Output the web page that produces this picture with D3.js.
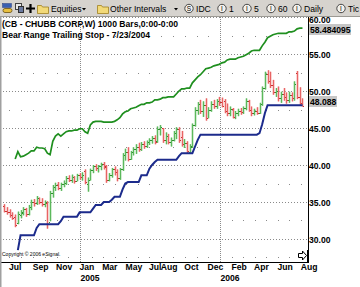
<!DOCTYPE html>
<html>
<head>
<meta charset="utf-8">
<script src="https://cdn.jsdelivr.net/npm/d3@7/dist/d3.min.js"></script>
<style>
  html, body { margin: 0; padding: 0; background: #fff; overflow: hidden; }
  svg { display: block; font-family: 'Liberation Sans', Arial, sans-serif; }
</style>
</head>
<body>
<svg id="chart" width="360" height="287"></svg>
<script>
// weekly bars, CB (Chubb) Jun 2004 - Aug 2006
const firstWeek = '2004-06-18';
const lastWeek = '2006-08-04';

const opens = [
  34.5, 33.8, 33.6, 33.2, 33.0, 32.1, 33.3, 33.5, 34.0, 33.4,
  34.3, 35.0, 34.8, 35.5, 35.0, 34.7, 34.9, 32.3, 36.2, 37.0,
  37.3, 36.9, 37.4, 37.6, 38.3, 38.0, 38.4, 37.9, 38.6, 38.4,
  39.2, 37.5, 38.0, 39.3, 39.8, 39.6, 39.8, 40.1, 39.8, 38.0,
  38.6, 39.4, 39.0, 38.2, 39.4, 41.3, 41.8, 40.8, 41.7, 42.1,
  42.5, 42.2, 42.9, 42.6, 43.1, 43.4, 43.6, 43.2, 44.8, 45.0,
  43.4, 43.9, 43.1, 43.4, 44.3, 44.9, 43.8, 42.8, 43.0, 41.8,
  42.5, 45.4, 47.5, 48.2, 47.3, 48.1, 46.4, 47.5, 48.3, 48.0,
  48.7, 48.5, 48.6, 47.3, 47.0, 47.6, 46.5, 47.0, 47.3, 47.1,
  47.7, 48.6, 47.5, 47.0, 47.3, 47.0, 48.2, 50.4, 52.3, 51.4,
  50.8, 49.8, 50.0, 49.0, 49.6, 49.2, 48.8, 49.5, 49.0, 52.4,
  49.2, 48.4
];
const highs = [
  34.7, 34.3, 34.0, 33.6, 33.3, 33.7, 33.9, 34.3, 34.2, 34.6,
  35.3, 35.4, 35.8, 35.6, 35.5, 35.2, 35.1, 36.5, 37.3, 37.6,
  37.7, 37.6, 37.9, 38.5, 38.6, 38.7, 38.5, 38.8, 38.9, 39.0,
  39.4, 38.3, 39.5, 40.0, 40.1, 40.0, 40.3, 40.4, 40.0, 38.9,
  39.6, 39.8, 39.4, 39.6, 41.6, 42.2, 42.4, 41.9, 42.4, 42.8,
  43.0, 43.1, 43.2, 43.3, 43.6, 43.9, 44.0, 45.2, 45.4, 45.0,
  44.4, 44.2, 43.7, 44.6, 45.1, 45.1, 44.6, 43.5, 43.2, 42.8,
  45.6, 47.8, 48.5, 48.8, 48.6, 49.0, 47.8, 48.6, 48.8, 48.9,
  49.2, 49.1, 48.9, 48.3, 47.9, 47.7, 47.3, 47.6, 47.7, 47.9,
  49.0, 48.8, 47.9, 47.6, 47.8, 48.4, 50.6, 52.6, 52.8, 52.6,
  51.5, 50.4, 50.6, 49.9, 50.4, 49.8, 49.9, 49.8, 51.3, 52.7,
  50.5, 49.0
];
const lows = [
  33.6, 33.3, 32.9, 32.6, 31.6, 32.0, 32.8, 33.2, 33.0, 33.2,
  33.9, 34.4, 34.6, 34.7, 34.4, 34.3, 31.4, 32.4, 35.6, 36.5,
  36.6, 36.5, 37.0, 37.3, 37.7, 37.6, 37.5, 37.8, 38.0, 37.9,
  37.4, 36.4, 37.9, 38.9, 39.2, 39.0, 39.3, 39.4, 37.6, 37.8,
  38.3, 38.6, 37.8, 38.0, 39.2, 40.6, 40.5, 40.7, 41.3, 41.5,
  41.8, 41.9, 42.2, 42.3, 42.7, 42.9, 42.8, 43.0, 44.0, 43.0,
  42.8, 42.8, 42.5, 43.2, 43.5, 43.0, 42.5, 42.3, 41.6, 41.5,
  42.3, 45.2, 46.8, 46.9, 46.5, 46.0, 46.3, 47.2, 47.6, 47.6,
  48.0, 47.8, 47.0, 46.6, 46.6, 46.3, 46.2, 46.6, 46.8, 46.9,
  47.4, 47.2, 46.6, 46.7, 46.8, 46.9, 48.0, 50.2, 51.0, 50.4,
  49.5, 49.2, 48.6, 48.4, 48.7, 48.3, 48.4, 48.6, 48.7, 48.9,
  48.0, 47.9
];
const closes = [
  33.8, 33.6, 33.2, 32.8, 31.9, 33.4, 33.6, 34.0, 33.4, 34.3,
  35.0, 34.8, 35.5, 35.0, 34.7, 35.0, 32.0, 36.2, 37.0, 37.3,
  36.9, 37.4, 37.6, 38.3, 38.0, 38.4, 37.9, 38.6, 38.4, 38.7,
  37.7, 38.0, 39.3, 39.8, 39.6, 39.8, 40.1, 39.7, 38.0, 38.6,
  39.4, 39.0, 38.2, 39.4, 41.3, 41.8, 40.8, 41.7, 42.1, 42.5,
  42.2, 42.9, 42.6, 43.1, 43.4, 43.6, 43.1, 44.8, 45.1, 43.4,
  43.9, 43.1, 43.4, 44.3, 44.9, 43.4, 42.8, 43.0, 41.9, 42.6,
  45.4, 47.5, 48.2, 47.3, 48.1, 46.4, 47.5, 48.3, 48.0, 48.7,
  48.5, 48.0, 47.3, 47.0, 47.6, 46.5, 47.0, 47.3, 47.1, 47.7,
  48.6, 47.5, 47.0, 47.3, 47.0, 48.2, 50.4, 52.3, 51.4, 50.8,
  49.8, 50.0, 49.0, 49.6, 49.2, 48.8, 49.5, 49.0, 51.0, 49.2,
  48.4, 48.0
];

// upper range line starts on week 4 (7/16/2004)
const upperStart = 4;
const upperLine = [
  40.8, 41.8, 41.1, 41.2, 41.4, 41.6, 41.9, 41.9, 42.4, 42.3,
  42.3, 42.2, 41.6, 41.4, 43.2, 43.9, 44.2, 43.9, 44.2, 44.5,
  44.6, 44.6, 44.7, 44.7, 44.9, 44.9, 44.5, 44.3, 45.4, 45.8,
  45.9, 45.9, 45.9, 45.8, 45.8, 45.8, 45.8, 45.9, 46.1, 46.4,
  46.9, 47.2, 47.3, 47.6, 47.7, 47.8, 48.0, 48.2, 48.2, 48.4,
  48.4, 48.5, 48.8, 48.8, 48.9, 49.1, 49.1, 49.2, 49.2, 49.2,
  49.6, 50.0, 50.3, 50.3, 50.4, 50.4, 51.1, 51.5, 51.9, 52.2,
  52.6, 53.0, 53.1, 53.2, 53.4, 53.5, 53.6, 53.8, 53.9, 54.2,
  54.3, 54.3, 54.3, 54.5, 54.6, 54.7, 54.9, 55.1, 55.4, 55.5,
  55.5, 55.5, 56.1, 56.6, 57.2, 57.4, 57.6, 57.7, 57.8, 57.8,
  57.8, 57.8, 58.0, 58.0, 58.1, 58.4, 58.484095, 58.484095
];

// bear range trailing stop starts on week 5 (7/23/2004)
const stopStart = 5;
const stopLine = [
  28.5, 30.5, 30.5, 30.5, 30.5, 30.5, 30.5, 31.5, 32.0, 32.0,
  32.0, 32.0, 32.0, 32.0, 32.0, 32.0, 32.4, 33.0, 33.0, 33.0,
  33.0, 33.0, 33.0, 33.6, 33.6, 33.6, 33.6, 33.6, 34.1, 34.6,
  34.6, 34.6, 35.0, 35.0, 35.0, 35.3, 35.7, 35.7, 35.7, 36.7,
  37.5, 37.7, 37.7, 37.7, 37.7, 37.7, 38.6, 38.6, 38.6, 39.5,
  40.0, 40.4, 40.7, 40.7, 40.7, 40.7, 40.7, 40.7, 40.7, 40.7,
  41.2, 41.6, 41.6, 41.6, 41.6, 41.6, 42.5, 43.4, 44.1, 44.1,
  44.1, 44.1, 44.1, 44.1, 44.1, 44.1, 44.1, 44.1, 44.1, 44.1,
  44.1, 44.1, 44.1, 44.1, 44.1, 44.1, 44.1, 44.1, 44.1, 44.1,
  44.3, 45.5, 47.0, 48.088, 48.088, 48.088, 48.088, 48.088, 48.088, 48.088,
  48.088, 48.088, 48.088, 48.088, 48.088, 48.088, 48.088
];

const priceTicks = [30, 35, 40, 45, 50, 55, 60];
const minorLevels = [27.5, 32.5, 37.5, 42.5, 47.5, 52.5, 57.5];
const monthTicks = ['2004-07-01', '2004-09-01', '2004-11-01', '2005-01-01', '2005-03-01',
  '2005-05-01', '2005-07-01', '2005-08-01', '2005-10-01', '2005-12-01', '2006-02-01',
  '2006-04-01', '2006-06-01', '2006-08-01'];
const yearTicks = ['2005-01-01', '2006-01-01'];

const titleLines = ['(CB - CHUBB CORP,W) 1000 Bars,0:00-0:00', 'Bear Range Trailing Stop - 7/23/2004'];

const svg = d3.select('#chart');
const plot = { left: 0, right: 308, top: 17, bottom: 262 };
const parse = d3.timeParse('%Y-%m-%d');

const weeks = d3.timeFriday.range(parse(firstWeek), d3.timeDay.offset(parse(lastWeek), 1));
const bars = weeks.map((d, i) => ({ date: d, o: opens[i], h: highs[i], l: lows[i], c: closes[i] }));

// the two year boundaries sit at fixed pixel spots in the eSignal window
const x = d3.scaleTime()
  .domain([parse('2005-01-01'), parse('2006-01-01')])
  .range([80, 220]);
const xAxisScale = x.copy()
  .domain([x.invert(plot.left), x.invert(plot.right)])
  .range([plot.left, plot.right]);

const y = d3.scaleLinear()
  .domain([30, 60])
  .range([239, 17]);

svg.append('rect')
  .attr('width', 360).attr('height', 287)
  .attr('fill', '#fff');

svg.append('clipPath').attr('id', 'plotClip')
  .append('rect')
  .attr('x', plot.left).attr('y', plot.top)
  .attr('width', plot.right - plot.left).attr('height', plot.bottom - plot.top);

// grid
const grid = svg.append('g').attr('class', 'grid');

grid.selectAll('.hgrid')
  .data(priceTicks)
  .enter().append('line')
  .attr('class', 'hgrid')
  .attr('x1', plot.left).attr('x2', plot.right)
  .attr('y1', d => Math.round(y(d)) + 0.5)
  .attr('y2', d => Math.round(y(d)) + 0.5)
  .attr('stroke', '#8a8a8a')
  .attr('stroke-dasharray', '1,2');

const months = d3.timeMonth.range(parse('2004-07-01'), parse('2006-09-01'))
  .filter(d => d.getMonth() !== 0);
const dots = [];
minorLevels.forEach(v => months.forEach(m => dots.push({ m, v })));
grid.selectAll('.gdot')
  .data(dots)
  .enter().append('rect')
  .attr('class', 'gdot')
  .attr('x', d => Math.round(x(d.m)))
  .attr('y', d => Math.round(y(d.v)))
  .attr('width', 1).attr('height', 1)
  .attr('fill', '#8a8a8a');

grid.selectAll('.vgrid')
  .data(yearTicks.map(parse))
  .enter().append('line')
  .attr('class', 'vgrid')
  .attr('x1', d => Math.round(x(d)) + 0.5)
  .attr('x2', d => Math.round(x(d)) + 0.5)
  .attr('y1', plot.top).attr('y2', plot.bottom)
  .attr('stroke', '#8a8a8a')
  .attr('stroke-dasharray', '1,1');

// price bars
const barG = svg.append('g').attr('clip-path', 'url(#plotClip)');
const up = d => d.c >= d.o;
const bx = d => Math.round(x(d.date));

barG.selectAll('.range')
  .data(bars)
  .enter().append('rect')
  .attr('class', 'range')
  .attr('x', d => bx(d) - 0.5)
  .attr('y', d => y(d.h))
  .attr('width', 2)
  .attr('height', d => Math.max(1, y(d.l) - y(d.h)))
  .attr('fill', d => up(d) ? '#a6dca6' : '#f6aaaa');

barG.selectAll('.hl')
  .data(bars)
  .enter().append('line')
  .attr('class', 'hl')
  .attr('x1', d => bx(d) + 0.5).attr('x2', d => bx(d) + 0.5)
  .attr('y1', d => y(d.h)).attr('y2', d => y(d.l))
  .attr('stroke', d => up(d) ? '#5cb85c' : '#e86464');

barG.selectAll('.otick')
  .data(bars)
  .enter().append('rect')
  .attr('class', 'otick')
  .attr('x', d => bx(d) - 1)
  .attr('y', d => Math.round(y(d.o)))
  .attr('width', 1).attr('height', 1)
  .attr('fill', d => up(d) ? '#2f8f2f' : '#c83030');

barG.selectAll('.ctick')
  .data(bars)
  .enter().append('rect')
  .attr('class', 'ctick')
  .attr('x', d => bx(d) + 1)
  .attr('y', d => Math.round(y(d.c)))
  .attr('width', 1).attr('height', 1)
  .attr('fill', d => up(d) ? '#2f8f2f' : '#c83030');

// study lines
const line = d3.line()
  .x(d => x(d.date))
  .y(d => y(d.v));

barG.append('path')
  .datum(upperLine.map((v, i) => ({ date: weeks[upperStart + i], v })))
  .attr('fill', 'none')
  .attr('stroke', '#1f8f1f')
  .attr('stroke-width', 1.7)
  .attr('d', line);

barG.append('path')
  .datum(stopLine.map((v, i) => ({ date: weeks[stopStart + i], v })))
  .attr('fill', 'none')
  .attr('stroke', '#1c2b8c')
  .attr('stroke-width', 2)
  .attr('d', line);

// frame
svg.append('line')
  .attr('x1', plot.right + 0.5).attr('x2', plot.right + 0.5)
  .attr('y1', plot.top).attr('y2', plot.bottom + 1)
  .attr('stroke', '#000');
svg.append('line')
  .attr('x1', 0).attr('x2', plot.right + 1)
  .attr('y1', plot.bottom + 0.5).attr('y2', plot.bottom + 0.5)
  .attr('stroke', '#000');
svg.append('rect')
  .attr('x', 0).attr('y', plot.top)
  .attr('width', 1.5).attr('height', 287 - plot.top)
  .attr('fill', '#a0a0a0');

// titles
svg.selectAll('.title')
  .data(titleLines)
  .enter().append('text')
  .attr('class', 'title')
  .attr('x', 2)
  .attr('y', (d, i) => 27 + i * 11)
  .attr('font-size', 8.6)
  .attr('font-weight', 'bold')
  .attr('fill', '#000')
  .text(d => d);

svg.append('text')
  .attr('x', 2).attr('y', 256)
  .attr('font-size', 5)
  .attr('fill', '#000')
  .text('Copyright \u00a9 2006 eSignal.');

// scroll arrow at the corner
svg.append('path')
  .attr('d', 'M298.5,253.5h4v-2.5l4,4.5l-4,4.5v-2.5h-4z')
  .attr('fill', '#fff').attr('stroke', '#000');
svg.append('line')
  .attr('x1', 307.5).attr('x2', 307.5).attr('y1', 250).attr('y2', 262)
  .attr('stroke', '#000');

// right price axis
const yAxis = svg.append('g')
  .attr('transform', `translate(${plot.right},0)`)
  .call(d3.axisRight(y).tickValues(priceTicks).tickSize(0).tickPadding(1).tickFormat(d3.format('.2f')));
yAxis.select('.domain').remove();
yAxis.selectAll('text')
  .attr('font-family', "'Liberation Sans', Arial, sans-serif")
  .attr('font-size', 8.6)
  .attr('font-weight', 'bold')
  .attr('fill', '#000')
  .attr('dy', d => d === 60 ? '0.6em' : '0.35em');

// last values of the study lines
const lastUpper = upperLine[upperLine.length - 1];
const lastStop = stopLine[stopLine.length - 1];
const valueTags = [
  { text: d3.format('.6f')(lastUpper), v: lastUpper, w: 42, shift: 1 },
  { text: d3.format('.3f')(lastStop), v: lastStop, w: 28, shift: -4 }
];
const tags = svg.selectAll('.tag')
  .data(valueTags)
  .enter().append('g')
  .attr('class', 'tag')
  .attr('transform', d => `translate(${plot.right + 1},${Math.round(y(d.v)) + d.shift})`);
tags.append('rect')
  .attr('x', 0).attr('y', -5)
  .attr('width', d => d.w).attr('height', 11)
  .attr('fill', '#c6c6c6');
tags.append('text')
  .attr('x', 1).attr('y', 0.5)
  .attr('dy', '0.35em')
  .attr('font-size', 8.6)
  .attr('font-weight', 'bold')
  .attr('fill', '#000')
  .text(d => d.text);

// time axis
const xAxis = svg.append('g')
  .attr('transform', `translate(0,${plot.bottom})`)
  .call(d3.axisBottom(xAxisScale).tickValues(monthTicks.map(parse)).tickSize(0).tickPadding(2).tickFormat(d3.timeFormat('%b')));
xAxis.select('.domain').remove();
xAxis.selectAll('text')
  .attr('text-anchor', 'start')
  .attr('x', -1)
  .attr('font-family', "'Liberation Sans', Arial, sans-serif")
  .attr('font-size', 8.6)
  .attr('font-weight', 'bold')
  .attr('fill', '#000');

const yearAxis = svg.append('g')
  .attr('transform', `translate(0,${plot.bottom + 11})`)
  .call(d3.axisBottom(xAxisScale).tickValues(yearTicks.map(parse)).tickSize(0).tickPadding(2).tickFormat(d3.timeFormat('%Y')));
yearAxis.select('.domain').remove();
yearAxis.selectAll('text')
  .attr('text-anchor', 'start')
  .attr('font-family', "'Liberation Sans', Arial, sans-serif")
  .attr('font-size', 8.6)
  .attr('font-weight', 'bold')
  .attr('fill', '#000');

// toolbar
const bar = svg.append('g').attr('class', 'toolbar');
bar.append('rect')
  .attr('width', 360).attr('height', plot.top)
  .attr('fill', '#d6d3ce');
bar.append('line')
  .attr('x1', 0).attr('x2', 360).attr('y1', plot.top - 0.5).attr('y2', plot.top - 0.5)
  .attr('stroke', '#9c9a94');

// link icon
bar.append('rect').attr('x', 2.5).attr('y', 3.5).attr('width', 9).attr('height', 4)
  .attr('fill', '#3a5fb0').attr('stroke', '#2a3f80').attr('stroke-width', 0.5);
bar.append('rect').attr('x', 3).attr('y', 8.5).attr('width', 9).attr('height', 4).attr('rx', 2)
  .attr('fill', '#e8c040').attr('stroke', '#6a5010').attr('stroke-width', 0.8);
// chart icon
bar.append('rect').attr('x', 15.5).attr('y', 3.5).attr('width', 6).attr('height', 6)
  .attr('fill', '#e8e8e8').attr('stroke', '#404040');
bar.append('rect').attr('x', 18.5).attr('y', 6.5).attr('width', 5).attr('height', 6)
  .attr('fill', '#6a7aa0').attr('stroke', '#303030');
// plus
bar.append('path').attr('d', 'M30.5,4v9M26,8.5h9')
  .attr('stroke', '#000').attr('stroke-width', 2.2);

const folders = [37, 97];
bar.selectAll('.folder')
  .data(folders)
  .enter().append('path')
  .attr('class', 'folder')
  .attr('d', d => `M${d + 0.5},5.5h4l1,1.5h6v6.5h-11z`)
  .attr('fill', '#f2d978').attr('stroke', '#a08020').attr('stroke-width', 0.8);

const menus = [{ t: 'Equities', x: 51, a: 82 }, { t: 'Other Intervals', x: 110, a: 174 }];
bar.selectAll('.menu')
  .data(menus)
  .enter().append('text')
  .attr('class', 'menu')
  .attr('x', d => d.x).attr('y', 11.5)
  .attr('font-size', 8.6)
  .attr('fill', '#000')
  .text(d => d.t);
bar.selectAll('.arrow')
  .data(menus)
  .enter().append('path')
  .attr('class', 'arrow')
  .attr('d', d => `M${d.a},8h4l-2,2.5z`)
  .attr('fill', '#000');

const intervals = [
  { k: 'S', t: 'IDC', x: 189 }, { k: 'I', t: '1', x: 222 }, { k: 'I', t: '5', x: 247 },
  { k: 'I', t: '60', x: 271 }, { k: 'I', t: 'Daily', x: 297 }, { k: 'I', t: 'Tic', x: 341 }
];
const iv = bar.selectAll('.iv')
  .data(intervals)
  .enter().append('g')
  .attr('class', 'iv')
  .attr('transform', d => `translate(${d.x},8.5)`);
iv.append('circle')
  .attr('r', 4.2)
  .attr('fill', '#f4f2ee').attr('stroke', '#202020').attr('stroke-width', 0.8);
iv.append('text')
  .attr('text-anchor', 'middle').attr('dy', '0.35em')
  .attr('font-size', 6.5).attr('fill', '#000')
  .text(d => d.k);
iv.append('text')
  .attr('x', 7).attr('dy', '0.35em')
  .attr('font-size', 8.6).attr('fill', '#000')
  .text(d => d.t);
</script>
</body>
</html>
